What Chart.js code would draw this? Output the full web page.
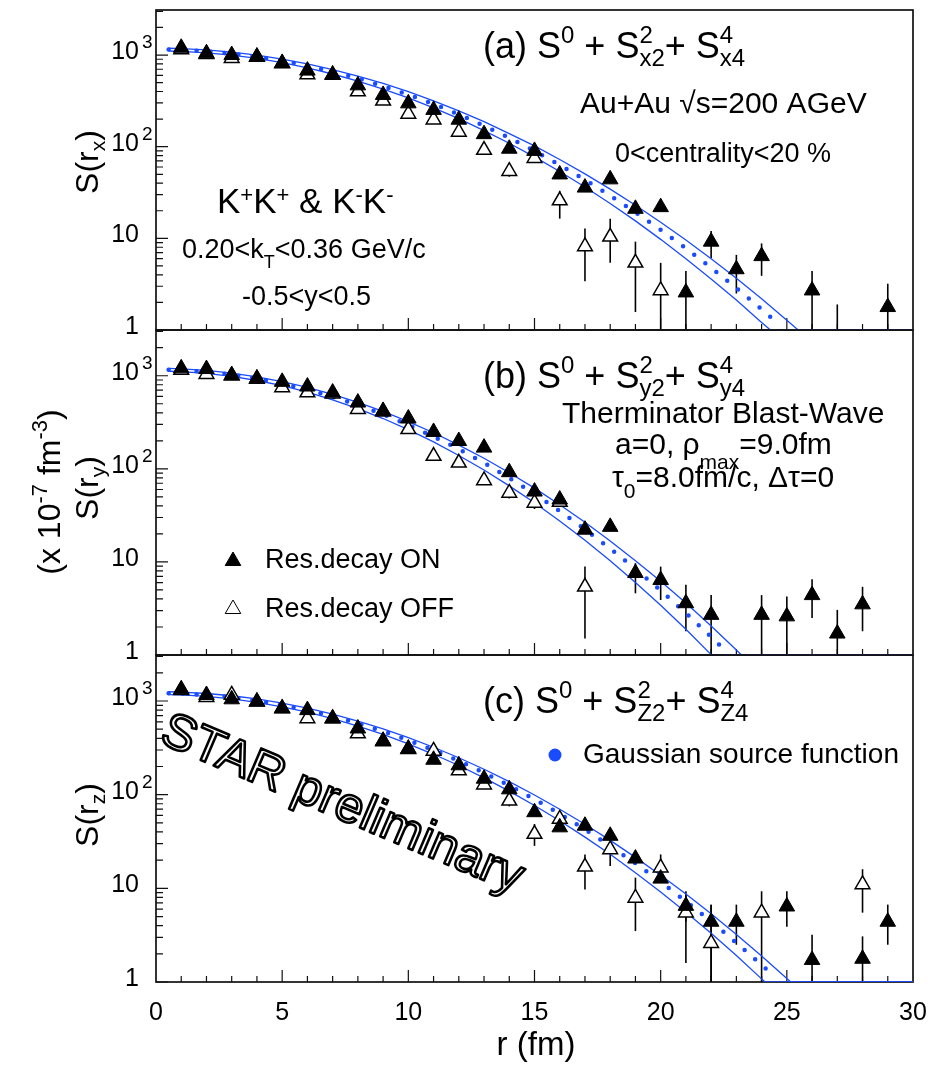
<!DOCTYPE html>
<html>
<head>
<meta charset="utf-8">
<script src="https://cdn.jsdelivr.net/npm/chart.js@4.4.1/dist/chart.umd.min.js"></script>
<style>
body { margin: 0; background: #fff; }
#wrap { position: relative; width: 943px; height: 1066px; }
canvas { position: absolute; left: 0; top: 0; }
</style>
</head>
<body>
<div id="wrap">
<canvas id="pa" width="943" height="1066"></canvas>
<canvas id="pb" width="943" height="1066"></canvas>
<canvas id="pc" width="943" height="1066"></canvas>
</div>
<script>
const FONT = "'Liberation Sans', Arial, Helvetica, sans-serif";
const BLUE = 'rgb(25, 75, 255)';

// r (fm) of the measured points
const rPts = [1,2,3,4,5,6,7,8,9,10,11,12,13,14,15,16,17,18,19,20,21,22,23,24,25,26,27,28,29];

// (a) x direction
const aOn  = [1200,1045,1000,960,817,676,612,467,367,297,252,197,137,95,90,49.8,35.8,44,21,21.9,2.57,9.2,4.6,6.4,null,2.7,0.5,null,1.78];
const aOff = [1150,1020,925,950,810,612,605,399,317,228,197,145,92,54,75,25.8,8.15,10.4,5.4,2.7,null,null,null,null,null,null,null,null,null];
const aOnErr  = [[21,0.5,4.4],[22,6.1,12],[23,2.5,6.6],[24,3.9,8.8],[26,0.5,4.4],[27,0.1,1.9],[29,0.5,3.2]];
const aOffErr = [[14,47,62],[16,16.4,33],[17,3.4,12.8],[18,5.4,16.4],[19,1.57,9.2],[20,0.5,5.4]];

// (b) y direction
const bOn  = [1200,1180,1015,935,860,766,660,515,419,347,249,199,169,92,57,46.8,22.2,23.8,7.6,6.4,3.6,2.7,null,2.7,2.6,4.4,1.7,3.5,null];
const bOff = [1150,1040,1000,920,748,660,640,437,410,266,137,116,75,55,43,44,5.4,null,null,null,null,null,null,null,null,null,null,null,null];
const bOnErr  = [[19,4.6,9.7],[20,3.9,8.9],[21,1.8,5.7],[22,0.5,4.4],[24,0.5,4.4],[25,0.5,4.25],[26,2.5,6.5],[27,0.5,3.05],[28,1.8,5.4]];
const bOffErr = [[14,48,62],[15,37,50],[17,1.5,8.9]];

// (c) z direction
const cOn  = [1335,1160,1043,986,836,800,651,509,376,310,236,206,148,114,65,44.8,46.6,36.4,20.8,12.7,6.5,4.4,4.4,null,6.4,1.72,null,1.77,4.4];
const cOff = [1300,1100,1160,980,830,651,650,450,370,305,293,181,128,86,38,55,17,26,7.9,16.6,5.5,2.6,null,5.5,null,null,null,11,null];
const cOnErr  = [[21,4.4,9.3],[22,0.5,6.7],[23,2.5,6.7],[25,3.9,9.3],[26,0.5,3.2],[28,0.5,3.07],[29,2.5,6.7]];
const cOffErr = [[14,75,98],[15,28.4,48.6],[16,47,64],[17,9.7,23],[18,17.3,30],[19,3.5,13],[20,13.5,23],[21,1.6,8.5],[22,0.5,6.7],[24,0.5,9.3],[28,5.5,16]];

// Gaussian source function band (upper / central / lower), read at these r
const rBand = [0.5,1,2,3,4,5,6,7,8,9,10,11,12,13,14,15,16,17,18,19,20,21,22,23,24];

const aUp  = [1186,1175,1138,1076,997,903,801,695,590,490,398,316,246,188,139,102,72.4,50.5,34.4,23.0,15.0,9.57,5.98,3.66,2.19];
const aUpTailR = [25, 25.45, 30], aUpTailV = [1.28, 1, 1];
const aMid = [1146,1135,1096,1037,957,865,764,659,556,458,370,292,225,169,125,89.8,63.2,43.5,29.2,19.2,12.4,7.76,4.77,2.86,1.68];
const aMidTailR = [24.5], aMidTailV = [1.28];
const aLow = [1107,1096,1057,997,918,826,725,621,520,425,340,265,202,150,109,77.4,53.6,36.3,24.0,15.5,9.75,6.0,3.61,2.12,1.21];
const aLowTailR = [24.35, 30], aLowTailV = [1, 1];

const bUp  = [1200,1186,1140,1069,973,865,748,631,518,414,322,244,180,130,90.8,62.1,41.2,26.7,16.8,10.3,6.18,3.61,2.05,1.13];
const bUpTailR = [23.2, 30], bUpTailV = [1, 1];
const bMid = [1159,1146,1099,1028,934,826,711,594,484,385,297,222,163,116,80.0,53.8,35.2,22.4,13.9,8.40,4.93,2.82,1.57];
const bMidTailR = [22.5], bMidTailV = [1.16];
const bLow = [1117,1107,1059,984,889,782,667,552,444,347,264,195,139,97.0,65.6,43.2,27.5,17.1,10.3,6.01,3.42,1.89,1.01];
const bLowTailR = [22.02, 30], bLowTailV = [1, 1];

const cUp  = [1256,1245,1203,1138,1052,948,839,724,611,505,407,321,248,187,138,99.3,70.0,48.3,32.5,21.4,13.8,8.69,5.35,3.21,1.89];
const cUpTailR = [25, 25.15, 30], cUpTailV = [1.09, 1, 1];
const cMid = [1213,1202,1161,1096,1009,910,801,689,578,475,381,299,229,171,125,89.3,62.4,42.5,28.3,18.5,11.7,7.28,4.43,2.62,1.52];
const cMidTailR = [24.5], cMidTailV = [1.15];
const cLow = [1172,1161,1119,1054,968,867,759,649,541,440,349,270,205,151,109,76.7,52.6,35.2,23.1,14.7,9.16,5.57,3.31,1.92,1.08];
const cLowTailR = [24.14, 30], cLowTailV = [1, 1];

// axes
const xMin = 0, xMax = 30;
const xLabels = [0, 5, 10, 15, 20, 25, 30];
const yMin = 1, yMax = 3100;
const yMajor = [1, 10, 100, 1000];
const yTickText = [['1', ''], ['10', ''], ['10', '2'], ['10', '3']];

function pts(vals, errs) {
  const e = {};
  errs.forEach(([r, lo, hi]) => { e[r] = [lo, hi]; });
  const out = [];
  vals.forEach((v, i) => {
    if (v === null) return;
    const r = rPts[i];
    out.push({ x: r, y: v, err: e[r] || null });
  });
  return out;
}
function band(vals, tailR, tailV) {
  const out = vals.map((v, i) => ({ x: rBand[i], y: v }));
  tailR.forEach((r, i) => out.push({ x: r, y: tailV[i] }));
  return out;
}

function rich(ctx, x, y, parts, o, draw = true) {
  let cx = x;
  parts.forEach(p => {
    if (typeof p === 'string') {
      ctx.font = o.size + 'px ' + FONT;
      if (draw) ctx.fillText(p, cx, y);
      cx += ctx.measureText(p).width;
    } else {
      ctx.font = o.small + 'px ' + FONT;
      let w = 0;
      if (p.sup) { if (draw) ctx.fillText(p.sup, cx, y - o.supDy); w = Math.max(w, ctx.measureText(p.sup).width); }
      if (p.sub) { if (draw) ctx.fillText(p.sub, cx, y + o.subDy); w = Math.max(w, ctx.measureText(p.sub).width); }
      cx += w;
    }
  });
  return cx - x;
}
function yTitle(ctx, x, yc, parts, o) {
  ctx.save();
  ctx.translate(x, yc);
  ctx.rotate(-Math.PI / 2);
  const w = rich(ctx, 0, 0, parts, o, false);
  rich(ctx, -w / 2, 0, parts, o);
  ctx.restore();
}

const TITLE = { size: 36, small: 24, supDy: 15, subDy: 8 };
const YTITLE = { size: 32, small: 21, subDy: 7 };

function drawFrame(chart, cfg) {
  const { ctx, chartArea: a, scales: { x, y } } = chart;
  ctx.save();
  ctx.strokeStyle = '#111';
  ctx.lineWidth = 1.2;
  ctx.beginPath();
  yMajor.forEach(v => { const py = y.getPixelForValue(v); ctx.moveTo(a.left, py); ctx.lineTo(a.left + 12, py); });
  for (let d = 1; d <= 1000; d *= 10) {
    for (let k = 2; k <= 9; k++) {
      const v = k * d;
      if (v > yMax) break;
      const py = y.getPixelForValue(v);
      ctx.moveTo(a.left, py); ctx.lineTo(a.left + 7, py);
    }
  }
  for (let r = xMin + 1; r < xMax; r++) {
    const px = x.getPixelForValue(r);
    ctx.moveTo(px, a.bottom); ctx.lineTo(px, a.bottom - (r % 5 === 0 ? 12 : 6));
  }
  ctx.stroke();
  ctx.lineWidth = 1.7;
  ctx.strokeRect(a.left, a.top, a.right - a.left, a.bottom - a.top);

  // y tick labels
  ctx.fillStyle = '#000';
  ctx.textBaseline = 'alphabetic';
  yMajor.forEach((v, i) => {
    const py = y.getPixelForValue(v);
    const [base, ex] = yTickText[i];
    ctx.font = '25px ' + FONT;
    ctx.textAlign = 'right';
    ctx.fillText(base, 139, py + 4);
    if (ex) {
      ctx.textAlign = 'left';
      ctx.font = '19px ' + FONT;
      ctx.fillText(ex, 142, py - 7);
    }
  });
  if (cfg.showX) {
    ctx.textAlign = 'center';
    ctx.font = '25px ' + FONT;
    xLabels.forEach(v => ctx.fillText(String(v), x.getPixelForValue(v), 1020));
    ctx.font = '33px ' + FONT;
    ctx.fillText('r (fm)', 536, 1055);
  }
  ctx.restore();
}

function drawErrors(chart) {
  const { ctx, chartArea: a, scales: { x, y } } = chart;
  ctx.save();
  ctx.beginPath();
  ctx.rect(a.left, a.top, a.right - a.left, a.bottom - a.top);
  ctx.clip();
  ctx.strokeStyle = '#000';
  ctx.lineWidth = 1.6;
  chart.data.datasets.forEach(ds => {
    if (!ds.hasErr) return;
    ds.data.forEach(p => {
      if (!p.err) return;
      const px = x.getPixelForValue(p.x);
      ctx.beginPath();
      ctx.moveTo(px, y.getPixelForValue(p.err[0]));
      ctx.lineTo(px, y.getPixelForValue(p.err[1]));
      ctx.stroke();
    });
  });
  ctx.restore();
}

function makePanel(id, top, bottom, series, cfg) {
  const datasets = [
    { type: 'line', data: band(series.up, series.upTailR, series.upTailV), borderColor: BLUE, borderWidth: 1.3, pointRadius: 0, tension: 0, order: 4 },
    { type: 'line', data: band(series.low, series.lowTailR, series.lowTailV), borderColor: BLUE, borderWidth: 1.3, pointRadius: 0, tension: 0, order: 4 },
    { type: 'line', data: band(series.mid, series.midTailR, series.midTailV), borderColor: BLUE, borderWidth: 4.5, borderDash: [0, 14], borderCapStyle: 'round', pointRadius: 0, tension: 0, order: 3 },
    { label: 'Res.decay OFF', data: pts(series.off, series.offErr), hasErr: true, showLine: false, pointStyle: 'triangle', pointRadius: 8.5, backgroundColor: '#fff', borderColor: '#000', borderWidth: 1.5, order: 2 },
    { label: 'Res.decay ON', data: pts(series.on, series.onErr), hasErr: true, showLine: false, pointStyle: 'triangle', pointRadius: 9, backgroundColor: '#000', borderColor: '#000', borderWidth: 1, order: 1 }
  ];
  return new Chart(document.getElementById(id), {
    type: 'scatter',
    data: { datasets },
    options: {
      responsive: false,
      animation: false,
      events: [],
      devicePixelRatio: 1,
      layout: { padding: { left: 156, right: 30, top: top, bottom: 1066 - bottom } },
      plugins: { legend: { display: false }, tooltip: { enabled: false } },
      scales: {
        x: { type: 'linear', min: xMin, max: xMax, display: false },
        y: { type: 'logarithmic', min: yMin, max: yMax, display: false }
      }
    },
    plugins: [{
      id: 'deco' + id,
      beforeDatasetsDraw(chart) { drawFrame(chart, cfg); drawErrors(chart); },
      afterDatasetsDraw(chart) {
        const ctx = chart.ctx;
        ctx.save();
        ctx.fillStyle = '#000';
        ctx.textAlign = 'left';
        ctx.textBaseline = 'alphabetic';
        cfg.decorate(ctx, chart);
        ctx.restore();
      }
    }]
  });
}

function legendMarker(ctx, x, y, filled) {
  ctx.save();
  ctx.fillStyle = filled ? '#000' : '#fff';
  ctx.strokeStyle = '#000';
  Chart.helpers.drawPoint(ctx, { pointStyle: 'triangle', radius: 9, borderWidth: 1.5, rotation: 0 }, x, y);
  ctx.restore();
}

makePanel('pa', 5, 330, {
  on: aOn, off: aOff, onErr: aOnErr, offErr: aOffErr,
  up: aUp, upTailR: aUpTailR, upTailV: aUpTailV,
  mid: aMid, midTailR: aMidTailR, midTailV: aMidTailV,
  low: aLow, lowTailR: aLowTailR, lowTailV: aLowTailV
}, {
  showX: false,
  decorate(ctx) {
    rich(ctx, 483, 58, ['(a) S', { sup: '0' }, ' + S', { sup: '2', sub: 'x2' }, '+ S', { sup: '4', sub: 'x4' }], TITLE);
    rich(ctx, 580, 113, ['Au+Au \u221As=200 AGeV'], { size: 30 });
    rich(ctx, 615, 162, ['0<centrality<20 %'], { size: 27 });
    rich(ctx, 217, 213, ['K', { sup: '+' }, 'K', { sup: '+' }, ' & K', { sup: '-' }, 'K', { sup: '-' }], { size: 35, small: 22, supDy: 11 });
    rich(ctx, 182, 258, ['0.20<k', { sub: 'T' }, '<0.36 GeV/c'], { size: 27, small: 18, subDy: 10 });
    rich(ctx, 242, 305, ['-0.5<y<0.5'], { size: 27 });
    yTitle(ctx, 98, 162, ['S(r', { sub: 'x' }, ')'], YTITLE);
  }
});

makePanel('pb', 330, 655, {
  on: bOn, off: bOff, onErr: bOnErr, offErr: bOffErr,
  up: bUp, upTailR: bUpTailR, upTailV: bUpTailV,
  mid: bMid, midTailR: bMidTailR, midTailV: bMidTailV,
  low: bLow, lowTailR: bLowTailR, lowTailV: bLowTailV
}, {
  showX: false,
  decorate(ctx) {
    rich(ctx, 483, 388, ['(b) S', { sup: '0' }, ' + S', { sup: '2', sub: 'y2' }, '+ S', { sup: '4', sub: 'y4' }], TITLE);
    rich(ctx, 562, 423, ['Therminator Blast-Wave'], { size: 30 });
    rich(ctx, 615, 454, ['a=0, \u03C1', { sub: 'max' }, '=9.0fm'], { size: 30, small: 21, subDy: 15 });
    rich(ctx, 612, 487, ['\u03C4', { sub: '0' }, '=8.0fm/c, \u0394\u03C4=0'], { size: 30, small: 21, subDy: 11 });
    legendMarker(ctx, 233, 561, true);
    legendMarker(ctx, 233, 609, false);
    rich(ctx, 265, 568, ['Res.decay ON'], { size: 27 });
    rich(ctx, 265, 617, ['Res.decay OFF'], { size: 27 });
    yTitle(ctx, 98, 488, ['S(r', { sub: 'y' }, ')'], YTITLE);
    yTitle(ctx, 60, 492, ['(x 10', { sup: '-7' }, ' fm', { sup: '-3' }, ')'], { size: 32, small: 22, supDy: 13 });
  }
});

makePanel('pc', 655, 982, {
  on: cOn, off: cOff, onErr: cOnErr, offErr: cOffErr,
  up: cUp, upTailR: cUpTailR, upTailV: cUpTailV,
  mid: cMid, midTailR: cMidTailR, midTailV: cMidTailV,
  low: cLow, lowTailR: cLowTailR, lowTailV: cLowTailV
}, {
  showX: true,
  decorate(ctx) {
    rich(ctx, 483, 713, ['(c) S', { sup: '0' }, ' + S', { sup: '2', sub: 'Z2' }, '+ S', { sup: '4', sub: 'Z4' }], TITLE);
    ctx.fillStyle = BLUE;
    ctx.beginPath();
    ctx.arc(555, 755, 6.5, 0, Math.PI * 2);
    ctx.fill();
    ctx.fillStyle = '#000';
    rich(ctx, 583, 763, ['Gaussian source function'], { size: 28 });
    // STAR preliminary, hollow letters
    ctx.save();
    ctx.translate(158, 742);
    ctx.rotate(23 * Math.PI / 180);
    ctx.font = '50px ' + FONT;
    ctx.fillStyle = '#fff';
    ctx.strokeStyle = '#000';
    ctx.lineWidth = 2.6;
    ctx.lineJoin = 'round';
    ctx.fillText('STAR preliminary', 0, 0);
    ctx.strokeText('STAR preliminary', 0, 0);
    ctx.restore();
    yTitle(ctx, 98, 815, ['S(r', { sub: 'z' }, ')'], YTITLE);
  }
});
</script>
</body>
</html>
